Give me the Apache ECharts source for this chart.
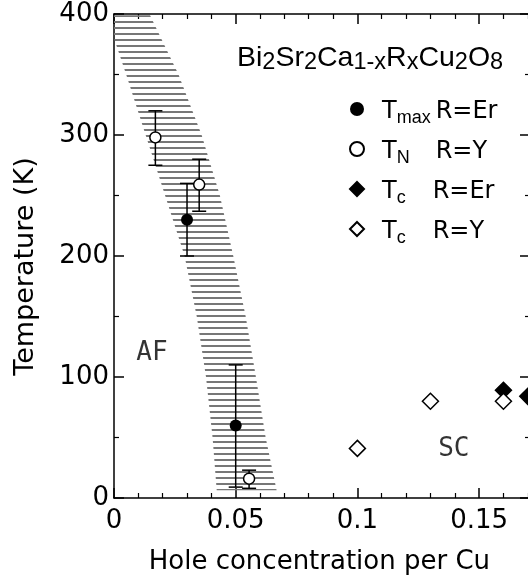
<!DOCTYPE html>
<html><head><meta charset="utf-8">
<script src="https://cdn.jsdelivr.net/npm/echarts@6/dist/echarts.min.js"></script>
<style>html,body{margin:0;padding:0;background:#fff}#c{width:528px;height:584px}</style>
</head><body><div id="c"></div>
<script>
// ---- data (x = hole concentration per Cu, y = temperature K) ----
const tmaxEr = [[0.03, 230], [0.05, 60]];
const tmaxErErr = [[0.03, 200, 260], [0.05, 9, 110]];
const tnY = [[0.017, 298], [0.035, 259], [0.0555, 16]];
const tnYErr = [[0.017, 275, 320], [0.035, 237, 280], [0.0555, 8, 23]];
const tcEr = [[0.16, 89], [0.17, 84]];
const tcY = [[0.10, 41], [0.13, 80], [0.16, 80]];
// AF/SC crossover band: left and right edges, top to bottom  [x, T]
const bandLeft = [[0, 399], [0, 380], [0.005, 350], [0.013, 300], [0.021, 250], [0.029, 200], [0.034, 150], [0.0378, 100], [0.0405, 50], [0.0422, 6.5]];
const bandRight = [[0.0148, 399], [0.0265, 350], [0.036, 300], [0.0435, 250], [0.049, 200], [0.0541, 150], [0.0583, 100], [0.0623, 50], [0.0668, 6.5]];
const annoLabels = ['AF', 'SC'];
const annoPos = [[0.0156, 120], [0.1396, 40]];
const legendNames = ['Tmax R=Er', 'TN R=Y', 'Tc R=Er', 'Tc R=Y'];
const legendRich = ['{t|T}{s1|max}{r|R=Er}', '{t|T}{s1|N}{r|R=Y}', '{t|T}{s2|c}{r|R=Er}', '{t|T}{s2|c}{r|R=Y}'];
const titleRich = '{a|Bi}{b|2}{a|Sr}{b|2}{a|Ca}{b|1-x}{a|R}{b|x}{a|Cu}{b|2}{a|O}{b|8}';
const xRange = [0, 0.2], xStep = 0.05;
const yRange = [0, 400], yStep = 100;

// hatch pattern
const pc = document.createElement('canvas');
pc.width = 6; pc.height = 6;
const pg = pc.getContext('2d');
pg.fillStyle = '#777';
pg.fillRect(0, 3, 6, 2);

const FONT = 'DejaVu Sans';
const bandPoly = bandLeft.concat(bandRight.slice().reverse());

const lineStyleBlack = {color: '#000', width: 1.5};
function xAx(pos, showLabel, name) {
  return {
    type: 'value', position: pos, min: xRange[0], max: xRange[1], interval: xStep,
    axisLine: {show: true, onZero: false, lineStyle: lineStyleBlack},
    axisTick: {show: true, inside: true, length: 10, lineStyle: lineStyleBlack},
    minorTick: {show: true, splitNumber: 5, length: 5, lineStyle: {color: '#000', width: 1.2}},
    splitLine: {show: false},
    axisLabel: {show: showLabel, color: '#000', fontFamily: FONT, fontSize: 26, margin: 10},
    name: name, nameLocation: 'middle', nameGap: 51,
    nameTextStyle: {color: '#000', fontFamily: FONT, fontSize: 26, padding: [0, 76, 0, 0]}
  };
}
function yAx(pos, showLabel, name, offset) {
  return {
    type: 'value', position: pos, offset: offset, min: yRange[0], max: yRange[1], interval: yStep,
    axisLine: {show: true, onZero: false, lineStyle: lineStyleBlack},
    axisTick: {show: true, inside: true, length: 10, lineStyle: lineStyleBlack},
    minorTick: {show: true, splitNumber: 2, length: 5, lineStyle: {color: '#000', width: 1.2}},
    splitLine: {show: false},
    axisLabel: {show: showLabel, color: '#000', fontFamily: FONT, fontSize: 26, margin: 5},
    name: name, nameLocation: 'middle', nameGap: 75,
    nameTextStyle: {color: '#000', fontFamily: FONT, fontSize: 27, padding: [0, 21, 0, 0]}
  };
}

function errRender(params, api) {
  const x = api.value(0), lo = api.value(1), hi = api.value(2);
  const a = api.coord([x, lo]), b = api.coord([x, hi]);
  const cap = 7, st = {stroke: '#000', lineWidth: 1.5};
  return {type: 'group', children: [
    {type: 'line', shape: {x1: a[0], y1: a[1], x2: b[0], y2: b[1]}, style: st},
    {type: 'line', shape: {x1: a[0] - cap, y1: a[1], x2: a[0] + cap, y2: a[1]}, style: st},
    {type: 'line', shape: {x1: b[0] - cap, y1: b[1], x2: b[0] + cap, y2: b[1]}, style: st}
  ]};
}

const chart = echarts.init(document.getElementById('c'), null, {renderer: 'canvas'});
chart.setOption({
  animation: false,
  backgroundColor: '#fff',
  grid: {left: 114, top: 14, right: -72.8, bottom: 86, outerBoundsMode: 'none', containLabel: false},
  title: {
    text: titleRich, left: 237, top: 41, padding: 0,
    textStyle: {fontWeight: 'normal', rich: {
      a: {fontFamily: 'Liberation Sans', fontWeight: 'normal', fontSize: 28.5, lineHeight: 34, color: '#000'},
      b: {fontFamily: 'Liberation Sans', fontWeight: 'normal', fontSize: 23.5, lineHeight: 18, verticalAlign: 'bottom', color: '#000'}
    }}
  },
  legend: {
    orient: 'vertical', left: 349, top: 100, padding: 0,
    itemWidth: 14, itemHeight: 14, itemGap: 13,
    data: legendNames,
    formatter: function (n) { return legendRich[legendNames.indexOf(n)]; },
    textStyle: {padding: [6, 0, 0, 13], rich: {
      t: {fontFamily: FONT, fontSize: 24, lineHeight: 30, color: '#000'},
      s1: {fontFamily: 'Liberation Sans', fontSize: 18, lineHeight: 16, verticalAlign: 'bottom', width: 39, color: '#000'},
      s2: {fontFamily: 'Liberation Sans', fontSize: 18, lineHeight: 16, verticalAlign: 'bottom', width: 36, color: '#000'},
      r: {fontFamily: FONT, fontSize: 24, lineHeight: 30, color: '#000'}
    }}
  },
  xAxis: [xAx('bottom', true, 'Hole concentration per Cu'), xAx('top', false, '')],
  yAxis: [yAx('left', true, 'Temperature (K)', 0), yAx('right', false, '', -70.8)],
  series: [
    {
      type: 'custom', name: 'band', data: bandPoly, z: 1, silent: true,
      renderItem: function (params, api) {
        if (params.dataIndex !== 0) return null;
        const pts = bandPoly.map(p => api.coord(p));
        return {type: 'polygon', shape: {points: pts}, style: {fill: {image: pc, repeat: 'repeat'}, stroke: null}};
      }
    },
    {type: 'custom', name: 'errTmax', data: tmaxErErr, renderItem: errRender, encode: {x: 0, y: [1, 2]}, z: 2, silent: true},
    {type: 'custom', name: 'errTN', data: tnYErr, renderItem: errRender, encode: {x: 0, y: [1, 2]}, z: 2, silent: true},
    {type: 'scatter', name: legendNames[0], data: tmaxEr, symbol: 'circle', symbolSize: 12, z: 3,
      itemStyle: {color: '#000', borderColor: '#000', borderWidth: 0, opacity: 1}},
    {type: 'scatter', name: legendNames[1], data: tnY, symbol: 'circle', symbolSize: 11, z: 3,
      itemStyle: {color: '#fff', borderColor: '#000', borderWidth: 1.5, opacity: 1}},
    {type: 'scatter', name: legendNames[2], data: tcEr, symbol: 'diamond', symbolSize: 16, z: 3,
      itemStyle: {color: '#000', borderColor: '#000', borderWidth: 1.5, opacity: 1}},
    {type: 'scatter', name: legendNames[3], data: tcY, symbol: 'diamond', symbolSize: 16, z: 3,
      itemStyle: {color: '#fff', borderColor: '#000', borderWidth: 1.5, opacity: 1}},
    {type: 'scatter', name: 'anno', silent: true, symbolSize: 0, z: 4,
      data: annoPos.map((p, i) => ({name: annoLabels[i], value: p})),
      label: {show: true, position: 'inside', formatter: '{b}', color: '#000', fontFamily: 'DejaVu Sans Mono', fontSize: 26}}
  ]
});
</script>
</body></html>
